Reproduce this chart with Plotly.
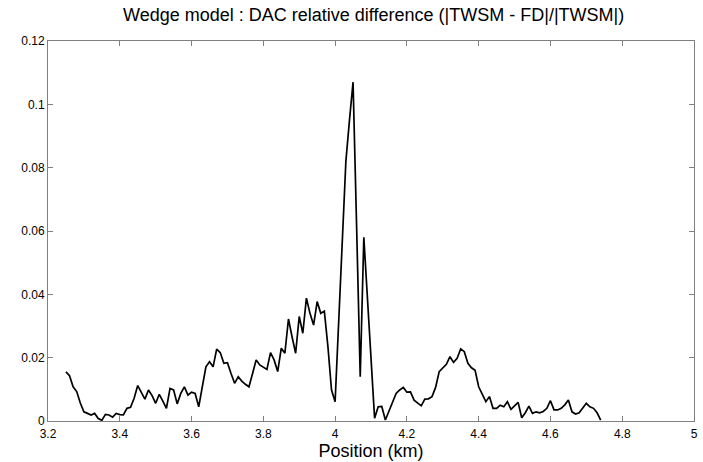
import numpy as np
import plotly.graph_objects as go

# Positions (km), sampled every 0.01 km from 3.25 to 4.74
x_start = 3.25
x_step = 0.01

# Relative difference values
rel_diff = [
    0.0155, 0.0143, 0.0108, 0.0093, 0.0057, 0.0029, 0.0024, 0.0019, 0.0024, 0.0008,
    0.0002, 0.0021, 0.0019, 0.0012, 0.0024, 0.0020, 0.0019, 0.0040, 0.0043, 0.0072,
    0.0112, 0.0090, 0.0069, 0.0098, 0.0080, 0.0056, 0.0084, 0.0063, 0.0040, 0.0103,
    0.0098, 0.0054, 0.0087, 0.0108, 0.0082, 0.0091, 0.0087, 0.0045, 0.0108, 0.0171,
    0.0187, 0.0171, 0.0227, 0.0216, 0.0182, 0.0184, 0.0150, 0.0119, 0.0140, 0.0126,
    0.0116, 0.0108, 0.0150, 0.0193, 0.0177, 0.0171, 0.0163, 0.0216, 0.0193, 0.0156,
    0.0230, 0.0214, 0.0322, 0.0266, 0.0214, 0.0330, 0.0277, 0.0388, 0.0340, 0.0303,
    0.0377, 0.0340, 0.0347, 0.0235, 0.0098, 0.0061,
    # 4.01 .. 4.16
    0.0310, 0.0540, 0.0820, 0.0950, 0.1070, 0.0610, 0.0140, 0.0580, 0.0380, 0.0180,
    0.0009, 0.0045, 0.0046, 0.0003, 0.0030, 0.0055,
    # 4.17 .. 4.44
    0.0087, 0.0098, 0.0106, 0.0091, 0.0092, 0.0066, 0.0058, 0.0048, 0.0069, 0.0070,
    0.0077, 0.0106, 0.0156, 0.0166, 0.0179, 0.0203, 0.0185, 0.0198, 0.0228, 0.0219,
    0.0182, 0.0168, 0.0160, 0.0108, 0.0085, 0.0061, 0.0077, 0.0040,
    # 4.45 .. 4.74
    0.0040, 0.0050, 0.0045, 0.0061, 0.0037, 0.0047, 0.0059, 0.0010, 0.0026, 0.0047,
    0.0024, 0.0029, 0.0026, 0.0030, 0.0040, 0.0064, 0.0035, 0.0035, 0.0040, 0.0051,
    0.0066, 0.0029, 0.0022, 0.0026, 0.0040, 0.0056, 0.0045, 0.0040, 0.0026, 0.0003,
]
position_km = [round(x_start + i * x_step, 2) for i in range(len(rel_diff))]

x_ticks = [3.2, 3.4, 3.6, 3.8, 4.0, 4.2, 4.4, 4.6, 4.8, 5.0]
x_tick_labels = ["3.2", "3.4", "3.6", "3.8", "4", "4.2", "4.4", "4.6", "4.8", "5"]
y_ticks = [0, 0.02, 0.04, 0.06, 0.08, 0.1, 0.12]
y_tick_labels = ["0", "0.02", "0.04", "0.06", "0.08", "0.1", "0.12"]

FONT = "Liberation Sans, Arial, Helvetica, sans-serif"

fig = go.Figure()
fig.add_trace(go.Scatter(
    x=position_km, y=rel_diff, mode="lines",
    line=dict(color="black", width=1.7),
    showlegend=False, hoverinfo="skip",
))

axis_common = dict(
    showgrid=False, zeroline=False,
    showline=True, linecolor="#808080", linewidth=1,
    mirror="ticks", ticks="inside", ticklen=5, tickcolor="#808080",
    tickfont=dict(family=FONT, size=12, color="black"),
)

fig.update_layout(
    width=703, height=462,
    margin=dict(l=48, r=5, t=41, b=41),
    paper_bgcolor="white", plot_bgcolor="white",
    title=dict(
        text="Wedge model : DAC relative difference (|TWSM - FD|/|TWSM|)",
        x=0.5315, xanchor="center", y=0.968, yanchor="middle",
        font=dict(family=FONT, size=18, color="black"),
    ),
    xaxis=dict(
        range=[3.2, 5], tickvals=x_ticks, ticktext=x_tick_labels,
        ticklabelstandoff=2,
        title=dict(text="Position (km)", font=dict(family=FONT, size=18, color="black"), standoff=0),
        **axis_common,
    ),
    yaxis=dict(
        range=[0, 0.12], tickvals=y_ticks, ticktext=y_tick_labels,
        **axis_common,
    ),
)

fig.write_html("out.html")
